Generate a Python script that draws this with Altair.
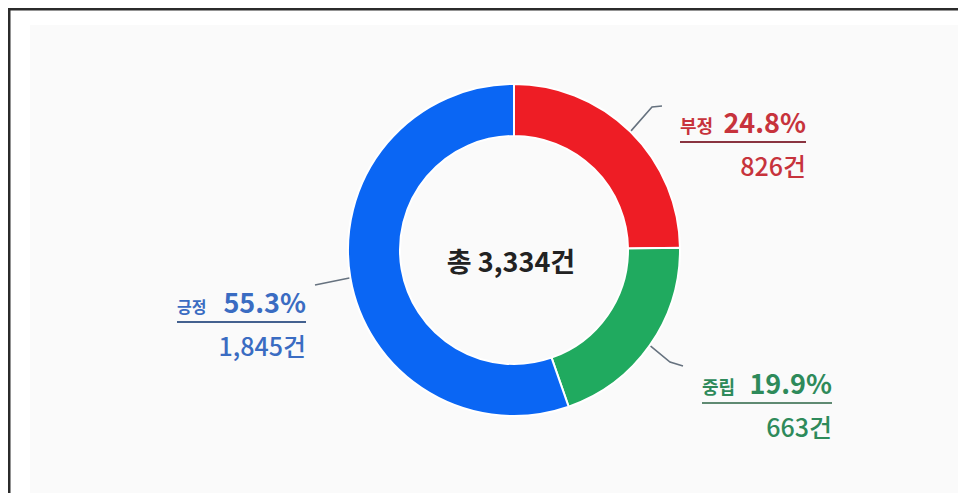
import math
import pandas as pd
import altair as alt

# ---------------- data ----------------
categories = ["부정", "중립", "긍정"]
counts = [826, 663, 1845]
percents = [24.8, 19.9, 55.3]

# ---------------- styles / layout ----------------
slice_colors = ["#ee1d25", "#20aa5f", "#0a66f4"]
label_colors = ["#c7333c", "#2e8a5a", "#3a6cc2"]
rule_colors = ["#8a3440", "#5f8a72", "#44618f"]
FONT = "Noto Sans CJK KR"
OFF = 8  # page margin
W, H = 950, 485
CX, CY = 514, 250          # donut centre (page coords)
R_OUT, R_IN = 166, 114

# underline position per category (page coords): x-left, x-right, y
underline = {
    "부정": (680, 806, 142),
    "중립": (702, 832, 403),
    "긍정": (177, 306, 322),
}
name_size = {"부정": 18, "중립": 18, "긍정": 16}
# leader line bends / ends per category (page coords)
leader_tail = {
    "부정": [(652, 107), (662, 106)],
    "중립": [(670, 362), (683, 366)],
    "긍정": [(315, 285)],
}


def p(v):
    return v - OFF


total = sum(counts)

arc_df = pd.DataFrame({
    "cat": categories,
    "count": counts,
    "idx": list(range(len(categories))),
})

# leader lines: start at slice mid-angle on the ring
line_rows = []
cum = 0
for i, (c, n) in enumerate(zip(categories, counts)):
    mid = (cum + n / 2) / total * 2 * math.pi
    cum += n
    r = R_OUT - 4
    sx = CX + r * math.sin(mid)
    sy = CY - r * math.cos(mid)
    pts = [(sx, sy)] + leader_tail[c]
    for k, (x, y) in enumerate(pts):
        line_rows.append({"cat": c, "k": k, "x": p(x), "y": p(y), "col": "#66727f"})
line_df = pd.DataFrame(line_rows)

rule_df = pd.DataFrame([
    {"cat": c, "x": p(underline[c][0]), "x2": p(underline[c][1]), "y": p(underline[c][2]),
     "col": rule_colors[i]}
    for i, c in enumerate(categories)
])

lab_rows = []
for i, c in enumerate(categories):
    xl, xr, uy = underline[c]
    lab_rows.append({
        "name": c, "pct": f"{percents[i]}%", "cnt": f"{counts[i]:,}건",
        "xl": p(xl), "xr": p(xr), "yt": p(uy - 9), "yb": p(uy + 34),
        "col": label_colors[i], "ns": name_size[c],
    })
lab_df = pd.DataFrame(lab_rows)

# ---------------- layers ----------------
bg = alt.Chart(pd.DataFrame({"a": [0]})).mark_rect(color="#fafafa").encode(
    x=alt.value(22), x2=alt.value(W), y=alt.value(17), y2=alt.value(H)
)
border_top = alt.Chart(pd.DataFrame({"a": [0]})).mark_rule(color="#2b2b2b", strokeWidth=3).encode(
    x=alt.value(0), x2=alt.value(W), y=alt.value(1)
)
border_left = alt.Chart(pd.DataFrame({"a": [0]})).mark_rule(color="#2b2b2b", strokeWidth=3).encode(
    x=alt.value(1), y=alt.value(0), y2=alt.value(H)
)

leaders = alt.Chart(line_df).mark_line(strokeWidth=1.6).encode(
    x=alt.X("x:Q", scale=None, axis=None),
    y=alt.Y("y:Q", scale=None, axis=None),
    detail="cat:N",
    order="k:Q",
    color=alt.Color("col:N", scale=None),
)

arcs = alt.Chart(arc_df).mark_arc(
    innerRadius=R_IN, outerRadius=R_OUT, stroke="white", strokeWidth=2
).encode(
    theta=alt.Theta("count:Q", stack=True),
    color=alt.Color("cat:N", scale=alt.Scale(domain=categories, range=slice_colors), legend=None),
    order=alt.Order("idx:Q"),
    x=alt.value(p(CX)),
    y=alt.value(p(CY)),
)

center = alt.Chart(pd.DataFrame({"t": [f"총 {total:,}건"]})).mark_text(
    font=FONT, fontSize=27, fontWeight="bold", color="#222222", align="center", baseline="middle"
).encode(text="t:N", x=alt.value(p(CX - 3)), y=alt.value(p(CY + 14)))

rules = alt.Chart(rule_df).mark_rule(strokeWidth=2).encode(
    x=alt.X("x:Q", scale=None, axis=None),
    x2="x2:Q",
    y=alt.Y("y:Q", scale=None, axis=None),
    color=alt.Color("col:N", scale=None),
)

names = alt.Chart(lab_df).mark_text(
    font=FONT, fontWeight="bold", align="left", baseline="alphabetic"
).encode(
    x=alt.X("xl:Q", scale=None, axis=None),
    y=alt.Y("yt:Q", scale=None, axis=None),
    text="name:N",
    size=alt.Size("ns:Q", scale=None),
    color=alt.Color("col:N", scale=None),
)
pcts = alt.Chart(lab_df).mark_text(
    font=FONT, fontSize=27, fontWeight="bold", align="right", baseline="alphabetic"
).encode(
    x=alt.X("xr:Q", scale=None, axis=None),
    y=alt.Y("yt:Q", scale=None, axis=None),
    text="pct:N",
    color=alt.Color("col:N", scale=None),
)
cnts = alt.Chart(lab_df).mark_text(
    font=FONT, fontSize=25, fontWeight=500, align="right", baseline="alphabetic"
).encode(
    x=alt.X("xr:Q", scale=None, axis=None),
    y=alt.Y("yb:Q", scale=None, axis=None),
    text="cnt:N",
    color=alt.Color("col:N", scale=None),
)

chart = alt.layer(
    bg, border_top, border_left, leaders, arcs, center, rules, names, pcts, cnts
).properties(
    width=W, height=H, padding=0, autosize=alt.AutoSizeParams(type="none"),
    background="white",
).configure_view(strokeWidth=0)

chart.save("out.html", embed_options={"renderer": "svg", "actions": False})
